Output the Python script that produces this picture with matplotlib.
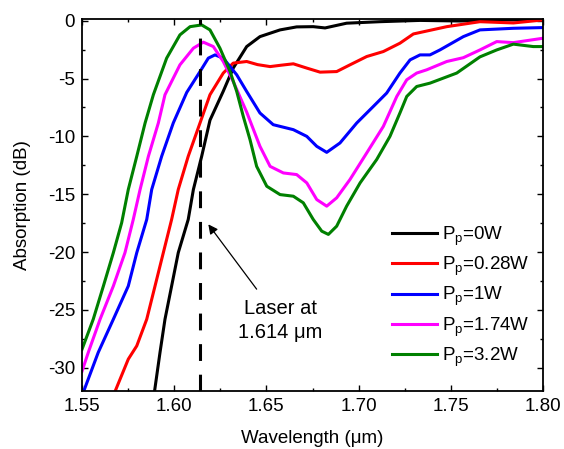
import matplotlib
matplotlib.use("Agg")
import matplotlib.pyplot as plt
from matplotlib.ticker import MultipleLocator

plt.rcParams['font.family'] = ['Liberation Sans', 'DejaVu Sans']
plt.rcParams['font.size'] = 13.5
plt.rcParams['axes.unicode_minus'] = False

# absorption spectra for each pump power (wavelength in um, absorption in dB)
wl_0w = [1.5890, 1.5923, 1.5950, 1.5986, 1.6022, 1.6076, 1.6104, 1.6149, 1.6194, 1.6266,
         1.6320, 1.6393, 1.6465, 1.6574, 1.6664, 1.6754, 1.6818, 1.6935, 1.7116, 1.7333,
         1.7550, 1.7767, 1.8000]
abs_0w = [-32.4, -28.67, -25.80, -22.93, -20.05, -17.18, -14.59, -11.72, -8.60, -6.10,
          -4.10, -2.24, -1.38, -0.80, -0.54, -0.52, -0.63, -0.22, -0.09, 0.02,
          -0.03, 0.06, 0.06]

wl_028w = [1.5675, 1.5751, 1.5797, 1.5851, 1.5896, 1.5941, 1.5986, 1.6022, 1.6076, 1.6140,
           1.6194, 1.6266, 1.6320, 1.6393, 1.6452, 1.6520, 1.6580, 1.6646, 1.6719, 1.6791,
           1.6881, 1.6953, 1.7044, 1.7134, 1.7224, 1.7297, 1.7478, 1.7658, 1.7839, 1.8000]
abs_028w = [-32.2, -29.25, -28.10, -25.80, -22.93, -20.05, -17.18, -14.59, -11.72, -8.84,
            -6.40, -4.53, -3.67, -3.53, -3.80, -3.97, -3.85, -3.73, -4.10, -4.45,
            -4.40, -3.82, -3.10, -2.67, -1.95, -1.15, -0.52, -0.09, -0.20, 0.06]

wl_1w = [1.5505, 1.5588, 1.5670, 1.5751, 1.5797, 1.5851, 1.5878, 1.5932, 1.5995, 1.6068,
         1.6140, 1.6185, 1.6221, 1.6266, 1.6339, 1.6393, 1.6465, 1.6537, 1.6646, 1.6719,
         1.6773, 1.6827, 1.6899, 1.6990, 1.7080, 1.7152, 1.7224, 1.7279, 1.7333, 1.7387,
         1.7441, 1.7568, 1.7658, 1.7839, 1.8000]
abs_1w = [-32.2, -28.67, -25.80, -22.93, -20.05, -17.18, -14.59, -11.72, -8.84, -6.20,
          -4.40, -3.24, -2.96, -3.24, -4.68, -6.12, -7.98, -8.99, -9.42, -10.00,
          -10.86, -11.38, -10.57, -8.84, -7.41, -6.26, -4.53, -3.39, -2.96, -2.96,
          -2.53, -1.38, -0.80, -0.66, -0.60]

wl_174w = [1.5500, 1.5534, 1.5598, 1.5670, 1.5733, 1.5778, 1.5815, 1.5860, 1.5914, 1.5950,
           1.6031, 1.6104, 1.6158, 1.6212, 1.6266, 1.6320, 1.6393, 1.6465, 1.6520, 1.6592,
           1.6664, 1.6719, 1.6773, 1.6827, 1.6881, 1.6953, 1.7044, 1.7134, 1.7207, 1.7261,
           1.7315, 1.7369, 1.7478, 1.7568, 1.7658, 1.7749, 1.7839, 1.8000]
abs_174w = [-30.3, -28.67, -25.80, -22.93, -20.05, -17.18, -14.59, -11.72, -8.84, -6.40,
            -3.82, -2.38, -1.86, -2.24, -3.53, -5.26, -7.90, -10.86, -12.59, -13.16,
            -13.30, -14.02, -15.46, -16.03, -15.31, -13.73, -11.43, -9.14, -6.55, -5.11,
            -4.53, -4.25, -3.53, -3.20, -2.53, -1.81, -1.90, -1.52]

wl_32w = [1.5500, 1.5561, 1.5616, 1.5670, 1.5715, 1.5751, 1.5797, 1.5842, 1.5887, 1.5959,
          1.6031, 1.6086, 1.6149, 1.6194, 1.6248, 1.6303, 1.6339, 1.6375, 1.6411, 1.6447,
          1.6502, 1.6574, 1.6646, 1.6700, 1.6754, 1.6800, 1.6836, 1.6881, 1.6935, 1.7008,
          1.7098, 1.7170, 1.7224, 1.7261, 1.7315, 1.7387, 1.7532, 1.7658, 1.7749, 1.7839,
          1.7947, 1.8000]
abs_32w = [-28.4, -25.80, -22.93, -20.05, -17.47, -14.59, -11.72, -8.85, -6.40, -3.24,
           -1.23, -0.52, -0.37, -0.80, -2.38, -4.40, -6.12, -8.30, -10.28, -12.59,
           -14.31, -15.03, -15.17, -15.74, -17.18, -18.19, -18.47, -17.76, -16.03, -14.02,
           -12.00, -10.00, -7.98, -6.55, -5.69, -5.40, -4.53, -3.13, -2.53, -2.03,
           -2.24, -2.24]

laser_wl = 1.614

fig = plt.figure(figsize=(5.64, 4.49), dpi=100)
ax = fig.add_axes([0.1454, 0.1292, 0.8174, 0.8274])

lw = 2.2
ax.plot(wl_0w, abs_0w, color='black', lw=lw, label=r'$\mathregular{P_p}$=0W')
ax.plot(wl_028w, abs_028w, color='#ff0000', lw=lw, label=r'$\mathregular{P_p}$=0.28W')
ax.plot(wl_1w, abs_1w, color='#0000ff', lw=lw, label=r'$\mathregular{P_p}$=1W')
ax.plot(wl_174w, abs_174w, color='#ff00ff', lw=lw, label=r'$\mathregular{P_p}$=1.74W')
ax.plot(wl_32w, abs_32w, color='#008000', lw=lw, label=r'$\mathregular{P_p}$=3.2W')

# laser line
ax.axvline(laser_wl, color='black', lw=2.2, dashes=(5.5, 4.5))

ax.annotate('', xy=(1.6185, -17.6), xytext=(1.6447, -23.2),
            arrowprops=dict(arrowstyle='-|>', color='black', lw=0.9,
                            mutation_scale=14, shrinkA=0, shrinkB=0))
ax.text(1.6574, -25.9, 'Laser at\n1.614 μm', ha='center', va='center',
        linespacing=1.3, fontsize=14.5)

ax.set_xlim(1.55, 1.80)
ax.set_ylim(-32, 0.1)
ax.xaxis.set_major_locator(MultipleLocator(0.05))
ax.xaxis.set_minor_locator(MultipleLocator(0.025))
ax.yaxis.set_major_locator(MultipleLocator(5))
ax.yaxis.set_minor_locator(MultipleLocator(2.5))
ax.xaxis.set_major_formatter(plt.FormatStrFormatter('%.2f'))
ax.tick_params(which='both', direction='in', top=True, right=True, width=1.0)
ax.tick_params(which='major', length=4.5, pad=5)
ax.tick_params(which='minor', length=2.2)
for s in ax.spines.values():
    s.set_linewidth(1.3)

ax.set_xlabel('Wavelength (μm)', labelpad=11)
ax.set_ylabel('Absorption (dB)', labelpad=12)

ax.legend(loc='lower right', bbox_to_anchor=(1.0, 0.024), frameon=False,
          handlelength=2.4, handletextpad=0.3, labelspacing=0.38, borderaxespad=0.3)

fig.savefig('out.png', dpi=100)
